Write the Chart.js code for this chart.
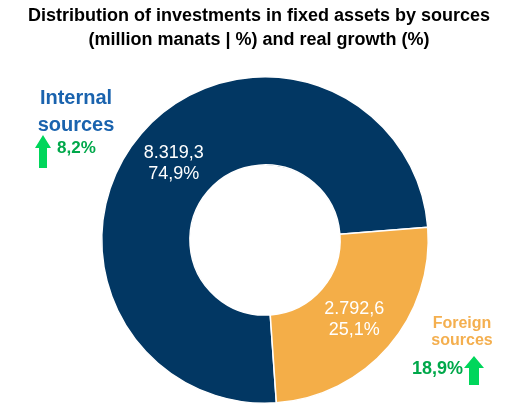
<!DOCTYPE html>
<html>
<head>
<meta charset="utf-8">
<script src="https://cdn.jsdelivr.net/npm/chart.js@4/dist/chart.umd.min.js"></script>
<style>
  html, body { margin: 0; padding: 0; background: #fff; }
  #wrap { position: relative; width: 511px; height: 414px; overflow: hidden; font-family: "Liberation Sans", Arial, sans-serif; }
  #chart { position: absolute; left: 0; top: 0; }
  .title { position: absolute; left: 0; top: 3px; width: 518px; text-align: center; font-weight: bold; font-size: 18px; line-height: 24px; color: #000; }
  .cat { position: absolute; font-weight: bold; text-align: center; }
  .growth { position: absolute; font-weight: bold; color: #00A84A; white-space: nowrap; }
  svg.arrow { position: absolute; }
</style>
</head>
<body>
<div id="wrap">
  <canvas id="chart" width="511" height="414"></canvas>
  <div class="title">Distribution of investments in fixed assets by sources<br>(million manats | %) and real growth (%)</div>
  <div class="cat" id="cat-0" style="left:26px; top:84px; width:100px; font-size:20px; line-height:27px; color:#1A63AE;"></div>
  <div class="growth" id="gr-0" style="left:57px; top:138px; font-size:17px; line-height:20px;"></div>
  <svg class="arrow" style="left:35px; top:135px;" width="16" height="33"><polygon points="8,0 16,13 12,13 12,33 4,33 4,13 0,13" fill="#00D65B"/></svg>
  <div class="cat" id="cat-1" style="left:412px; top:314px; width:100px; font-size:16px; line-height:17px; color:#F4AF4F;"></div>
  <div class="growth" id="gr-1" style="left:412px; top:358px; font-size:18px; line-height:20px;"></div>
  <svg class="arrow" style="left:464px; top:356px;" width="20" height="29"><polygon points="10,0 20,12 15,12 15,29 5,29 5,12 0,12" fill="#00D65B"/></svg>
</div>
<script>
const categories = ["Internal sources", "Foreign sources"];
const amounts = [8319.3, 2792.6];
const shares = [74.9, 25.1];
const growth = [8.2, 18.9];
const sliceColors = ["#023763", "#F4AE48"];

// numbers in the picture use "." for thousands and "," for decimals
function fmt(v) {
  const parts = v.toFixed(1).split(".");
  return parts[0].replace(/\B(?=(\d{3})+(?!\d))/g, ".") + "," + parts[1];
}

categories.forEach((c, i) => {
  const w = c.split(" ");
  document.getElementById("cat-" + i).innerHTML = w[0] + "<br>" + w.slice(1).join(" ");
  document.getElementById("gr-" + i).textContent = fmt(growth[i]) + "%";
});

// draws value and share in the middle of each slice
const sliceLabels = {
  id: "sliceLabels",
  afterDatasetsDraw(chart) {
    const ctx = chart.ctx;
    const meta = chart.getDatasetMeta(0);
    ctx.save();
    ctx.fillStyle = "#ffffff";
    ctx.font = "18px 'Liberation Sans', Arial, sans-serif";
    ctx.textAlign = "center";
    ctx.textBaseline = "middle";
    meta.data.forEach((arc, i) => {
      const p = arc.tooltipPosition();
      ctx.fillText(fmt(amounts[i]), p.x - 1, p.y - 9);
      ctx.fillText(fmt(shares[i]) + "%", p.x - 1, p.y + 12);
    });
    ctx.restore();
  },
};

let myChart = new Chart(document.getElementById("chart"), {
  type: "doughnut",
  plugins: [sliceLabels],
  data: {
    labels: categories,
    datasets: [{
      data: amounts,
      backgroundColor: sliceColors,
      borderColor: "#ffffff",
      borderWidth: 1.5,
    }],
  },
  options: {
    responsive: false,
    animation: false,
    rotation: 176,
    cutout: "46%",
    layout: { padding: { left: 101, right: 82, top: 76, bottom: 10 } },
    plugins: {
      legend: { display: false },
      tooltip: { enabled: false },
      title: { display: false },
    },
  },
});
</script>
</body>
</html>
